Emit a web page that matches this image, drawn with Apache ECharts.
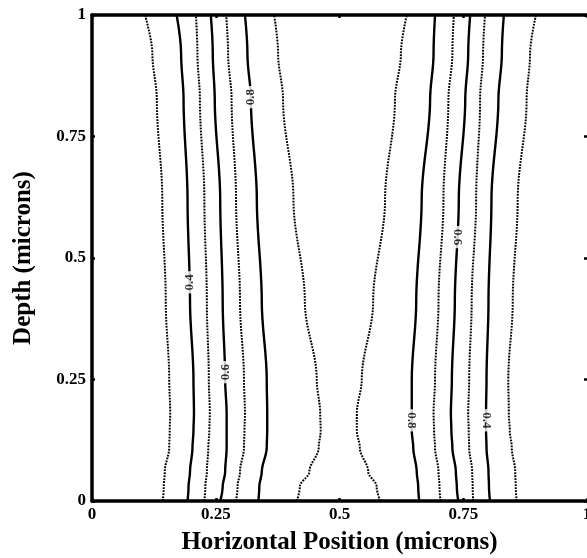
<!DOCTYPE html>
<html>
<head>
<meta charset="utf-8">
<script src="https://cdn.jsdelivr.net/npm/echarts@6/dist/echarts.min.js"></script>
<style>
  html, body { margin: 0; padding: 0; background: #fff; overflow: hidden; }
  #chart { width: 587px; height: 558px; }
</style>
</head>
<body>
<div id="chart"></div>
<script>
// Depth samples (microns) shared by every contour trace below
const depths = [0, 0.03, 0.06, 0.11, 0.145, 0.18, 0.25, 0.41, 0.62, 0.825, 0.92, 1];

// Horizontal position (microns) of each contour at the depths above
const c03Left  = [0.143, 0.145, 0.147, 0.156, 0.157, 0.158, 0.156, 0.149, 0.142, 0.131, 0.122, 0.107];
const c04Left  = [0.193, 0.195, 0.198, 0.203, 0.205, 0.206, 0.205, 0.198, 0.193, 0.185, 0.180, 0.171];
const c05Left  = [0.227, 0.229, 0.232, 0.235, 0.237, 0.238, 0.236, 0.232, 0.227, 0.218, 0.213, 0.210];
const c06Left  = [0.259, 0.264, 0.269, 0.272, 0.272, 0.272, 0.269, 0.264, 0.259, 0.248, 0.244, 0.240];
const c07Left  = [0.291, 0.294, 0.299, 0.307, 0.308, 0.309, 0.307, 0.299, 0.291, 0.282, 0.275, 0.271];
const c08Left  = [0.336, 0.338, 0.343, 0.353, 0.354, 0.354, 0.353, 0.343, 0.333, 0.321, 0.314, 0.309];
const c09Left  = [0.414, 0.420, 0.439, 0.458, 0.462, 0.461, 0.454, 0.430, 0.407, 0.386, 0.376, 0.368];
const c09Right = [0.582, 0.575, 0.558, 0.541, 0.535, 0.535, 0.545, 0.568, 0.592, 0.612, 0.624, 0.636];
const c08Right = [0.661, 0.659, 0.656, 0.649, 0.646, 0.646, 0.646, 0.655, 0.666, 0.683, 0.690, 0.693];
const c07Right = [0.704, 0.702, 0.700, 0.693, 0.691, 0.690, 0.693, 0.700, 0.710, 0.720, 0.728, 0.731];
const c06Right = [0.740, 0.737, 0.735, 0.728, 0.726, 0.725, 0.727, 0.733, 0.741, 0.754, 0.760, 0.764];
const c05Right = [0.770, 0.769, 0.768, 0.762, 0.761, 0.760, 0.762, 0.767, 0.776, 0.784, 0.790, 0.794];
const c04Right = [0.804, 0.802, 0.801, 0.797, 0.796, 0.796, 0.797, 0.801, 0.807, 0.821, 0.828, 0.832];
const c03Right = [0.858, 0.856, 0.855, 0.848, 0.844, 0.842, 0.841, 0.850, 0.860, 0.878, 0.885, 0.897];

// Contour level of each trace
const traceLevels = [0.3, 0.4, 0.5, 0.6, 0.7, 0.8, 0.9, 0.9, 0.8, 0.7, 0.6, 0.5, 0.4, 0.3];
const traceXs = [c03Left, c04Left, c05Left, c06Left, c07Left, c08Left, c09Left,
                 c09Right, c08Right, c07Right, c06Right, c05Right, c04Right, c03Right];

// In-line contour labels: level text and where it sits on its contour
const labelText  = ['0.8', '0.4', '0.6', '0.6', '0.8', '0.4'];
const labelX     = [0.321, 0.197, 0.269, 0.738, 0.646, 0.796];
const labelDepth = [0.831, 0.45, 0.265, 0.543, 0.166, 0.166];

// Axis tick labels
const xTickLabels = ['0', '0.25', '0.5', '0.75', '1'];
const yTickLabels = ['0', '0.25', '0.5', '0.75', '1'];

const serif = "'Liberation Serif', 'DejaVu Serif', serif";
const tickFont = { fontFamily: serif, fontWeight: 'bold', fontSize: 17, color: '#000' };
const titleFont = { fontFamily: serif, fontWeight: 'bold', fontSize: 25, color: '#000' };
const frame = { show: true, onZero: false, lineStyle: { color: '#000', width: 3.5 } };
const ticks = { show: true, inside: true, length: 3, lineStyle: { color: '#000', width: 2.5 } };

// Levels on even tenths are drawn solid, the ones between them dotted
const isSolid = (lvl) => Math.round(lvl * 10) % 2 === 0;

const contourSeries = traceXs.map((xs, k) => ({
  type: 'line',
  data: depths.map((d, i) => [xs[i], d]),
  showSymbol: false,
  smooth: 0.35,
  smoothMonotone: 'y',
  silent: true,
  z: 2,
  lineStyle: isSolid(traceLevels[k])
    ? { color: '#000', width: 2.4, type: 'solid' }
    : { color: '#000', width: 2, type: [1.8, 1.2] }
}));

const labelSeries = {
  type: 'scatter',
  symbolSize: 0,
  silent: true,
  z: 5,
  data: labelText.map((t, i) => ({
    value: [labelX[i], labelDepth[i]],
    name: t,
    label: { rotate: labelX[i] < 0.5 ? 90 : -90 }
  })),
  label: {
    show: true,
    position: 'inside',
    formatter: (p) => p.name,
    fontFamily: serif,
    fontWeight: 'bold',
    fontSize: 13,
    color: '#000',
    backgroundColor: '#fff',
    padding: [0, 3]
  }
};

const chart = echarts.init(document.getElementById('chart'), null, { renderer: 'canvas' });
chart.setOption({
  animation: false,
  backgroundColor: '#fff',
  grid: { left: 92, top: 15, width: 495, height: 486, containLabel: false, outerBoundsMode: 'none' },
  xAxis: [
    {
      type: 'value', min: 0, max: 1, interval: 0.25, position: 'bottom',
      name: 'Horizontal Position (microns)', nameLocation: 'middle', nameGap: 29,
      nameTextStyle: titleFont,
      axisLine: frame, axisTick: ticks, splitLine: { show: false },
      axisLabel: Object.assign({ margin: 5, formatter: (v) => xTickLabels[Math.round(v / 0.25)] }, tickFont)
    },
    {
      type: 'value', min: 0, max: 1, interval: 0.25, position: 'top',
      axisLine: frame, axisTick: ticks, splitLine: { show: false },
      axisLabel: { show: false }
    }
  ],
  yAxis: [
    {
      type: 'value', min: 0, max: 1, interval: 0.25, position: 'left',
      name: 'Depth (microns)', nameLocation: 'middle', nameGap: 56,
      nameTextStyle: titleFont,
      axisLine: frame, axisTick: ticks, splitLine: { show: false },
      axisLabel: Object.assign({ margin: 6, formatter: (v) => yTickLabels[Math.round(v / 0.25)] }, tickFont)
    },
    {
      type: 'value', min: 0, max: 1, interval: 0.25, position: 'right',
      axisLine: { show: false, onZero: false }, axisTick: ticks, splitLine: { show: false },
      axisLabel: { show: false }
    }
  ],
  series: contourSeries.concat([labelSeries])
});
</script>
</body>
</html>
